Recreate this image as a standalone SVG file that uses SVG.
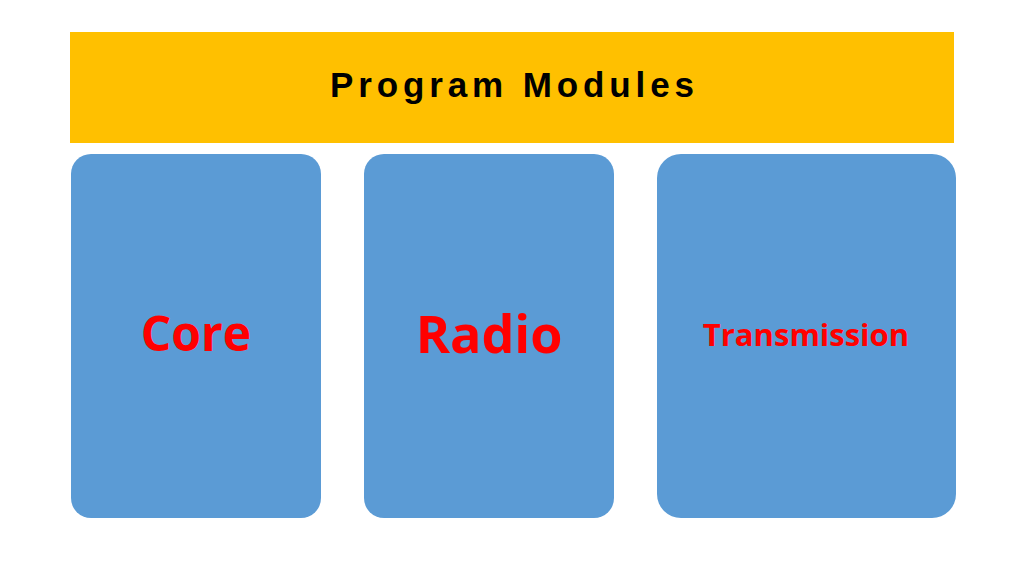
<svg xmlns="http://www.w3.org/2000/svg" width="1024" height="576" viewBox="0 0 1024 576">
<style>
.box{fill:#5b9bd5}
.lbl{font-family:"Open Sans","Liberation Sans",sans-serif;font-weight:bold;fill:#ff0000;text-anchor:middle}
</style>
<rect width="1024" height="576" fill="#ffffff"/>
<g id="header"><rect x="70" y="32" width="884" height="111" fill="#ffc000"/>
<text x="330" y="97" font-family="Liberation Sans,Arial,sans-serif" font-weight="bold" font-size="35" textLength="364" lengthAdjust="spacing" fill="#000">Program Modules</text></g>
<g id="core"><rect class="box" x="71" y="154" width="250" height="364" rx="20"/><text class="lbl" x="196" y="351" font-size="48">Core</text></g>
<g id="radio"><rect class="box" x="364" y="154" width="250" height="364" rx="20"/><text class="lbl" x="489" y="353" font-size="52">Radio</text></g>
<g id="transmission"><rect class="box" x="657" y="154" width="299" height="364" rx="24"/><text class="lbl" x="806" y="346" font-size="31">Transmission</text></g>
<g id="connectors"/>
</svg>
